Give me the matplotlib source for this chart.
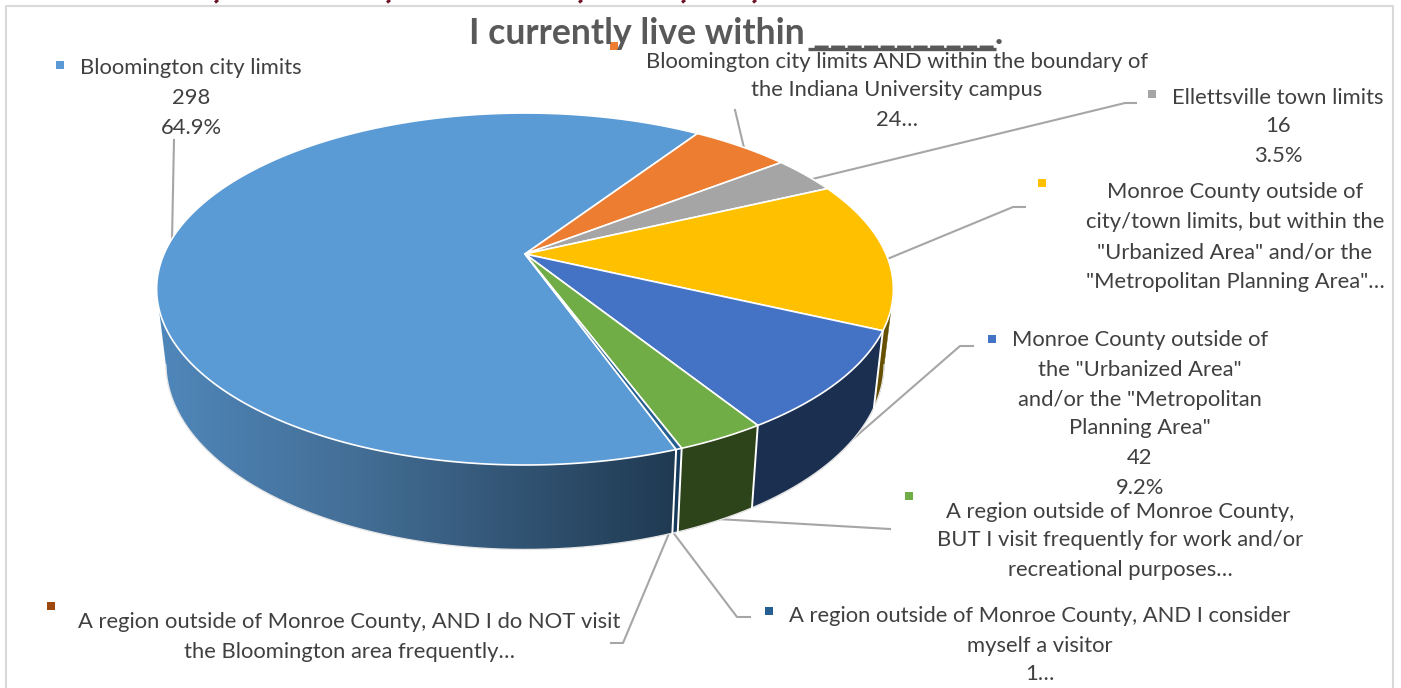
import numpy as np
import matplotlib
matplotlib.use("Agg")
import matplotlib.pyplot as plt
from matplotlib.colors import LinearSegmentedColormap
from matplotlib.patches import Polygon, Rectangle

# ---- data ----
values = [298, 24, 16, 63, 42, 15, 1, 0]
top_colors = ["#5B9BD5", "#ED7D31", "#A5A5A5", "#FFC000", "#4472C4", "#70AD47", "#255E91", "#9E480E"]
wall_colors = ["#426C93", "#8a4a1c", "#606060", "#665000", "#1B2F51", "#2D441A", "#163A5C", "#5c2a08"]
start_angle = 160.1

title_text = "I currently live within ___________."
label_lines = [
    ["Bloomington city limits", "298", "64.9%"],
    ["Bloomington city limits AND within the boundary of", "the Indiana University campus", "24…"],
    ["Ellettsville town limits", "16", "3.5%"],
    ["Monroe County outside of", "city/town limits, but within the", "\"Urbanized Area\" and/or the", "\"Metropolitan Planning Area\"…"],
    ["Monroe County outside of", "the \"Urbanized Area\"", "and/or the \"Metropolitan", "Planning Area\"", "42", "9.2%"],
    ["A region outside of Monroe County,", "BUT I visit frequently for work and/or", "recreational purposes…"],
    ["A region outside of Monroe County, AND I consider", "myself a visitor", "1…"],
    ["A region outside of Monroe County, AND I do NOT visit", "the Bloomington area frequently…"],
]
label_cx = [191, 897, 1278, 1235, 1140, 1120, 1040, 349]
label_y = [[66, 96, 126], [60, 89, 118], [96, 125, 154], [191, 221, 251, 280],
           [339, 368, 398, 427, 457, 486], [510, 539, 569], [614, 644, 673], [621, 651]]
marker_xy = [(60, 65), (614, 46), (1152, 94), (1042, 183), (992, 339), (909, 496), (769, 611), (51, 606)]
leaders = [
    [(174, 140), (172, 240)],
    [(735, 110), (745, 152)],
    [(1136, 103), (1125, 103), (800, 182)],
    [(1025, 207), (1013, 207), (880, 262)],
    [(973, 346), (960, 346), (815, 472)],
    [(890, 529), (700, 518)],
    [(750, 617), (737, 617), (672, 531)],
    [(611, 643), (623, 643), (670, 531)],
]
top_marks = [216, 388, 580, 683, 754]

# ---- projection of the tilted disc ----
CX, CY, A, B, K = 525.0, 254.0, 169.0, 361.0, 0.199
XS = 0.975
WALL_FROM, WALL_TO = 102.0, 258.0  # angles where the side wall meets the silhouette


def top_pt(theta):
    t = np.radians(theta)
    u, v = np.sin(t), np.cos(t)
    d = 1 + K * v
    return CX + B * u / d, CY - A * v / d


def bot_pt(theta):
    x, y = top_pt(theta)
    v = np.cos(np.radians(theta))
    return CX + (x - CX) * XS, y + 71.5 - 13 * v


def wall_polygon(a0, a1):
    th = np.linspace(a0, a1, max(3, int(abs(a1 - a0) * 2)))
    return [top_pt(t) for t in th] + [bot_pt(t) for t in th[::-1]]


fig = plt.figure(figsize=(14.01, 6.88), dpi=100, facecolor="white")
ax = fig.add_axes([0, 0, 1, 1])
plt.rcParams["font.family"] = ["Lato", "DejaVu Sans"]

# frame
ax.plot([6, 6, 1393, 1393], [688, 5.5, 5.5, 688], color="#d9d9d9", lw=1.5, zorder=1)
for mx in top_marks:
    ax.plot([mx + 2, mx - 1], [0, 2.5], color="#6b1428", lw=2.2, zorder=1, solid_capstyle="butt")

# leader lines run under the pie
for seg in leaders:
    xs, ys = zip(*seg)
    ax.plot(xs, ys, color="#a6a6a6", lw=1.5, zorder=1.5)

# slices
total = sum(values)
angles = [start_angle]
for val in values:
    angles.append(angles[-1] + val / total * 360)

# side walls of the slices that face the viewer (all but the first lie past a full turn)
for i in range(1, len(values)):
    a0, a1 = max(angles[i] - 360, WALL_FROM), min(angles[i + 1] - 360, WALL_TO)
    if values[i] > 0 and a1 > a0:
        ax.add_patch(Polygon(wall_polygon(a0, a1), closed=True,
                             facecolor=wall_colors[i], edgecolor=wall_colors[i], lw=0.3, zorder=2))

# the large slice's wall carries a horizontal gradient
wall_cmap = LinearSegmentedColormap.from_list(
    "wall", [(0.0, "#5088BC"), (0.42, "#426C93"), (1.0, "#203A52")])
poly = Polygon(wall_polygon(angles[0], WALL_TO), closed=True, facecolor="none", edgecolor="none",
               transform=ax.transData)
ax.add_patch(poly)
img = ax.imshow(np.linspace(0, 1, 256)[None, :], cmap=wall_cmap, aspect="auto",
                extent=(150, 675, 600, 250), interpolation="bilinear", zorder=2.2)
img.set_clip_path(poly)

# outer rim of side wall
th = np.linspace(WALL_FROM, WALL_TO, 300)
rim = np.array([bot_pt(t) for t in th])
ax.plot(rim[:, 0], rim[:, 1], color="#e6e6e6", lw=1.0, zorder=2.5)

# white dividers on the visible wall
for i, val in enumerate(values):
    a = angles[i] % 360
    if WALL_FROM < a < WALL_TO and val > 0:
        p, q = top_pt(a), bot_pt(a)
        ax.plot([p[0], q[0]], [p[1], q[1]], color="white", lw=1.4, zorder=3)

# top faces
for i, val in enumerate(values):
    if val == 0:
        continue
    th = np.linspace(angles[i], angles[i + 1], max(3, int(val / total * 720)))
    pts = [(CX, CY)] + [top_pt(t) for t in th]
    ax.add_patch(Polygon(pts, closed=True, facecolor=top_colors[i], edgecolor="white",
                         lw=1.2, joinstyle="round", zorder=4))

# labels and swatches
for lines, cx, ys, (mx, my), col in zip(label_lines, label_cx, label_y, marker_xy, top_colors):
    for line, y in zip(lines, ys):
        ax.text(cx, y + 1.5, line, ha="center", va="center", fontsize=15.8, color="#404040", zorder=7)
    ax.add_patch(Rectangle((mx - 4, my - 4), 8, 8, facecolor=col, edgecolor="none", zorder=6))

ax.text(736, 34, title_text, ha="center", va="center", fontsize=25.6, fontweight="bold", color="#595959", zorder=6)
# the title's blank is one unbroken rule in the reference
ax.plot([808, 996], [49, 49], color="#595959", lw=2.4, solid_capstyle="butt", zorder=6)

ax.set_xlim(0, 1401)
ax.set_ylim(688, 0)
ax.axis("off")
fig.savefig("out.png", dpi=100, facecolor="white")
